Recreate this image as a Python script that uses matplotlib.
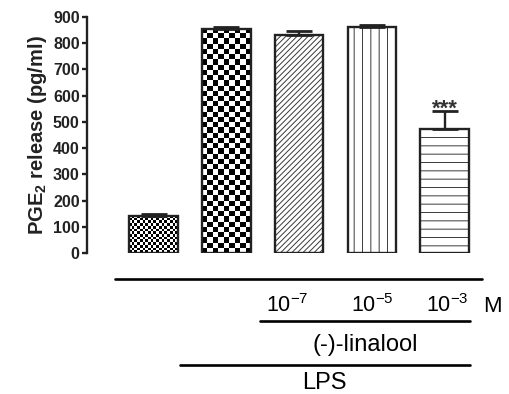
import numpy as np
import matplotlib
matplotlib.use("Agg")
import matplotlib.pyplot as plt

plt.rcParams['font.family'] = ['Liberation Sans', 'DejaVu Sans']
plt.rcParams['mathtext.fontset'] = 'custom'
plt.rcParams['mathtext.rm'] = 'Liberation Sans'
plt.rcParams['mathtext.it'] = 'Liberation Sans:italic'
plt.rcParams['mathtext.bf'] = 'Liberation Sans:bold'
plt.rcParams['hatch.linewidth'] = 0.7
plt.rcParams['hatch.color'] = '#3a3a3a'

groups = ["Control", "LPS", "LPS + 1e-7", "LPS + 1e-5", "LPS + 1e-3"]
means = [142, 856, 830, 861, 472]
errors = [6, 5, 17, 7, 68]
hatches = ["check_fine", "check_coarse", "//////", "||", "--"]
conc_labels = [r"10$^{\mathrm{-7}}$", r"10$^{\mathrm{-5}}$", r"10$^{\mathrm{-3}}$"]
yticks = [0, 100, 200, 300, 400, 500, 600, 700, 800, 900]

W, H = 509, 394
fig = plt.figure(figsize=(W / 100, H / 100), dpi=100)
ax = fig.add_axes([87 / W, (H - 253) / H, (500 - 87) / W, (253 - 17) / H])

x = np.arange(len(means))
bw = 0.67
xlim = (-0.914, 4.76)
ylim = (0, 900)
edge = "#222222"

bars = ax.bar(x, means, width=bw, color="white", edgecolor="none", linewidth=0, zorder=3)
for b, h in zip(bars, hatches):
    if not h.startswith("check"):
        b.set_hatch(h)
        b.set_edgecolor("#3a3a3a")

# checkerboard fills
px_per_x = (500 - 87) / (xlim[1] - xlim[0])
px_per_y = (253 - 17) / (ylim[1] - ylim[0])
for b, h in zip(bars, hatches):
    if h.startswith("check"):
        cell = 2.7 if h == "check_fine" else 5.2
        x0, w = b.get_x(), b.get_width()
        hh = b.get_height()
        nx = max(1, int(round(w * px_per_x / cell)))
        ny = max(1, int(round(hh * px_per_y / cell)))
        board = (np.add.outer(np.arange(ny), np.arange(nx)) % 2).astype(float)
        ax.imshow(board, cmap="gray", vmin=0, vmax=1, extent=(x0, x0 + w, 0, hh),
                  origin="lower", aspect="auto", interpolation="nearest", zorder=3.2)

# outlines
ax.bar(x, means, width=bw, fill=False, edgecolor=edge, linewidth=1.7, zorder=3.5)

ax.errorbar(x, means, yerr=[np.zeros(len(errors)), errors], fmt="none", ecolor=edge,
            elinewidth=1.7, capsize=9.5, capthick=2.0, zorder=4, clip_on=False)

ax.annotate("***", xy=(x[4], means[4] + errors[4]), xytext=(0, -2.5),
            textcoords="offset points", ha="center", va="baseline",
            fontsize=16, fontweight="bold", color="#333333", annotation_clip=False)

ax.set_xlim(*xlim)
ax.set_ylim(*ylim)
ax.set_yticks(yticks)
ax.set_yticklabels([str(t) for t in yticks], fontsize=11.5, fontweight="bold")
ax.set_xticks([])
for s in ["top", "right", "bottom"]:
    ax.spines[s].set_visible(False)
ax.spines["left"].set_linewidth(1.7)
ax.spines["left"].set_color(edge)
ax.tick_params(axis="y", length=3.8, width=1.7, color=edge, pad=1.5, labelcolor=edge)
ax.set_ylabel(r"PGE$_\mathbf{2}$ release (pg/ml)", fontsize=14.5, fontweight="bold",
              labelpad=3, color=edge)

# group annotation lines below
kw = dict(color="black", linewidth=1.9, clip_on=False, solid_capstyle="round")
ax.plot([-0.53, 4.51], [-99, -99], **kw)
ax.plot([1.46, 4.35], [-259, -259], **kw)
ax.plot([0.364, 4.35], [-427, -427], **kw)
for xi, lab in zip([1.84, 3.0, 4.04], conc_labels):
    ax.text(xi, -226, lab, ha="center", va="baseline", fontsize=15.5)
ax.text(4.65, -226, "M", ha="center", va="baseline", fontsize=16)
ax.text(2.91, -372, "(-)-linalool", ha="center", va="baseline", fontsize=17)
ax.text(2.35, -518, "LPS", ha="center", va="baseline", fontsize=17)

fig.savefig("out.png", dpi=100)
